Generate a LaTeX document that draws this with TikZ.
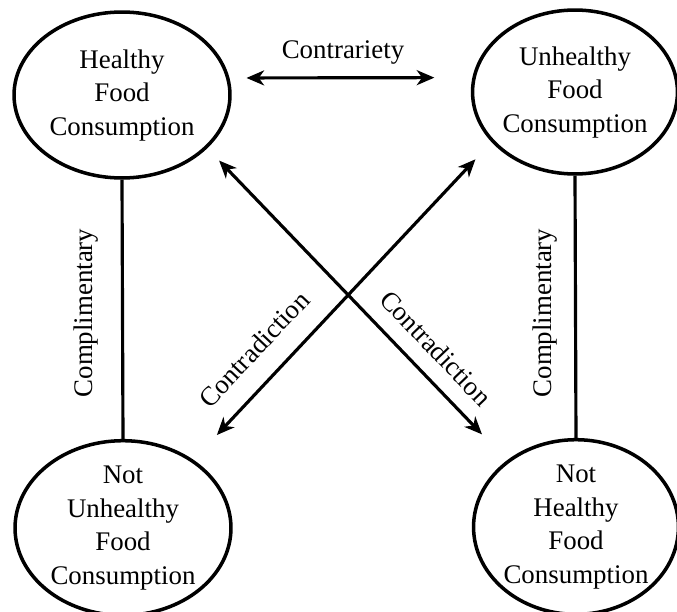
\documentclass[tikz,border=0pt]{standalone}
\usepackage{fontspec}
\setmainfont{Liberation Serif}
\usetikzlibrary{shapes.geometric,arrows.meta}

\begin{document}
\begin{tikzpicture}[
  x=0.02cm, y=-0.02cm,
  every node/.style={font=\fontsize{15.3}{19}\selectfont},
  state/.style={draw, ellipse, line width=2pt, inner sep=0pt, align=center},
  rel/.style={line width=1.8pt},
  tip/.style={Stealth[length=10pt,width=8.5pt,inset=3pt]},
  relarrow/.style={rel, {Stealth[length=10pt,width=8.5pt,inset=3pt]}-{Stealth[length=10pt,width=8.5pt,inset=3pt]}},
  tag/.style={inner sep=0pt}
]
\useasboundingbox (0,0) rectangle (677,612);

% the four corners of the square
\node[state, minimum width=4.32cm, minimum height=3.32cm] (hf)  at (122,95)  {\raisebox{4pt}{\begin{tabular}{@{}c@{}}Healthy\\Food\\Consumption\end{tabular}}};
\node[state, minimum width=4.08cm, minimum height=3.28cm] (uf)  at (575,92)  {\raisebox{2pt}{\begin{tabular}{@{}c@{}}Unhealthy\\Food\\Consumption\end{tabular}}};
\node[state, minimum width=4.32cm, minimum height=3.32cm] (nuf) at (123,528) {Not\\Unhealthy\\Food\\Consumption};
\node[state, minimum width=4.04cm, minimum height=3.32cm] (nhf) at (576,527) {Not\\Healthy\\Food\\Consumption};

% contrariety between the top corners
\draw[relarrow, shorten <=0.34cm, shorten >=0.76cm] (hf.9) -- (uf.172);
\node[tag] (lcontr) at (343,53) {Contrariety};

% complementary sides
\draw[rel] (hf.south) -- (nuf.north);
\draw[rel] (uf.south) -- (nhf.north);
\node[tag, rotate=90] (lcompl) at (86,313) {Complimentary};
\node[tag, rotate=90] (rcompl) at (545,313) {Complimentary};

% contradiction diagonals
\draw[relarrow, shorten <=0.34cm, shorten >=0.72cm] (hf.-32) -- (nhf.136);
\draw[relarrow, shorten <=0.68cm, shorten >=0.47cm] (nuf.44) -- (uf.-149);
\node[tag, rotate=46.7] (lcontra) at (254,349) {Contradiction};
\node[tag, rotate=-46.2] (rcontra) at (436,348) {Contradiction};
\end{tikzpicture}
\end{document}
